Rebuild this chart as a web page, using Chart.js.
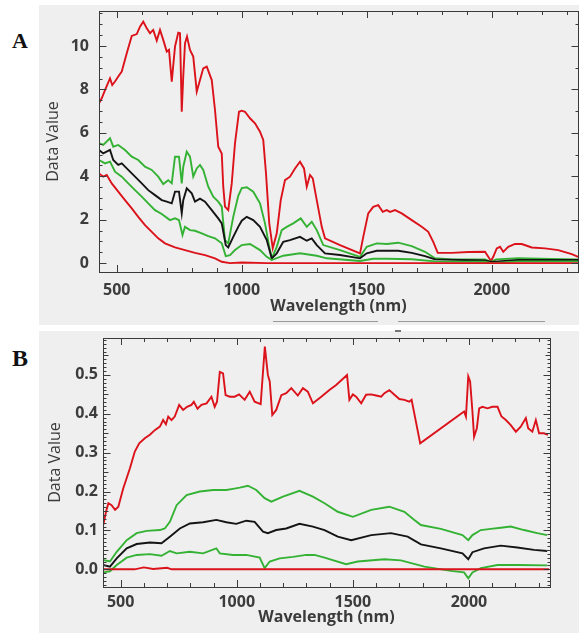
<!DOCTYPE html>
<html>
<head>
<meta charset="utf-8">
<script src="https://cdn.jsdelivr.net/npm/chart.js@4"></script>
<style>
  body { margin: 0; background: #fff; width: 579px; height: 633px; position: relative; overflow: hidden; }
  .panel { position: absolute; left: 39px; width: 540px; background: #efefef; }
  .tag { position: absolute; left: 12px; font-family: "Liberation Serif", serif; font-weight: bold; color: #111; line-height: 1; }
  .rule { position: absolute; height: 1px; background: #9a9a9a; }
</style>
</head>
<body>
<div class="tag" style="top:30px;font-size:22px">A</div>
<div class="tag" style="top:346px;font-size:24px">B</div>
<div class="panel" style="top:5px;height:320px"><canvas id="chartA" width="540" height="320"></canvas></div>
<div class="rule" style="left:273px;top:321px;width:105px"></div>
<div class="rule" style="left:398px;top:321px;width:147px"></div>
<div class="panel" style="top:331px;height:302px"><canvas id="chartB" width="540" height="302"></canvas></div>
<div class="rule" style="left:395px;top:330px;width:6px;height:2px;background:#777"></div>
<script>
// ---- panel A (wavelength nm / data value) ----
const aMaxNm = [429,440,453,473,482,493,506,520,540,560,580,593,606,620,633,646,660,673,686,700,709,720,733,746,753,760,766,773,781,793,806,820,833,846,860,880,893,906,920,926,933,946,960,973,989,1000,1013,1033,1053,1073,1086,1097,1110,1124,1140,1156,1173,1193,1213,1233,1249,1260,1273,1284,1300,1320,1333,1393,1473,1486,1506,1526,1546,1564,1580,1593,1613,1640,1680,1720,1746,1766,1784,1840,1906,1973,1986,1997,2006,2020,2033,2046,2066,2093,2120,2160,2213,2266,2320,2346];
const aMaxVal = [7.36,7.59,7.97,8.51,8.2,8.36,8.59,8.82,9.66,10.46,10.55,10.89,11.12,10.82,10.59,10.74,10.25,10.74,10.28,9.74,9.82,8.36,9.97,10.61,10.59,6.97,8.59,10.12,10.43,9.82,9.51,7.9,8.43,8.97,9.05,8.43,7.05,5.36,5.05,3.52,2.6,2.44,3.67,5.52,6.97,7.02,6.97,6.67,6.44,6.05,5.67,4.13,1.83,0.68,1.37,2.9,3.82,3.98,4.36,4.67,4.36,3.52,4.06,3.9,2.9,1.67,1.14,0.83,0.45,1.21,2.29,2.59,2.67,2.36,2.44,2.36,2.44,2.29,1.98,1.67,1.44,0.98,0.47,0.47,0.51,0.52,0.29,0.1,0.29,0.68,0.75,0.52,0.75,0.88,0.88,0.72,0.68,0.6,0.41,0.29];

const aGreenHiNm = [429,446,473,486,506,533,560,586,613,640,666,686,706,720,733,749,760,766,780,793,806,820,833,846,866,886,906,920,933,946,966,986,1000,1020,1046,1073,1093,1110,1120,1140,1160,1180,1206,1236,1260,1280,1300,1326,1393,1473,1500,1540,1580,1626,1680,1733,1773,1840,1973,1997,2017,2106,2238,2346];
const aGreenHiVal = [5.52,5.44,5.75,5.36,5.44,5.21,4.9,4.75,4.44,4.29,3.98,3.64,3.82,3.67,4.9,4.9,3.67,4.44,5.13,4.9,3.98,4.36,4.52,4.29,3.52,3.06,2.83,2.6,1.06,0.91,2.13,3.1,3.45,3.49,3.29,2.75,1.83,0.75,0.22,0.75,1.52,1.67,1.83,2.06,1.67,1.9,1.52,0.83,0.6,0.29,0.75,0.91,0.88,0.94,0.78,0.52,0.22,0.17,0.17,0.06,0.17,0.22,0.19,0.17];

const aMeanNm = [429,446,473,486,506,520,546,573,600,626,653,680,700,720,733,749,760,766,780,800,813,833,853,880,906,920,936,946,966,986,1000,1020,1046,1073,1100,1120,1140,1166,1193,1233,1260,1280,1300,1333,1393,1473,1500,1540,1580,1626,1680,1733,1773,1973,1997,2106,2346];
const aMeanVal = [5.21,5.05,5.21,4.75,4.52,4.59,4.29,3.98,3.67,3.36,3.13,2.9,2.83,2.75,3.29,3.29,2.29,2.9,3.44,3.21,2.83,2.97,2.83,2.44,2.06,1.83,0.83,0.72,1.21,1.67,1.95,2.13,1.98,1.67,1.06,0.22,0.45,0.98,1.06,1.21,1.03,1.14,0.83,0.45,0.37,0.22,0.45,0.57,0.57,0.57,0.47,0.32,0.17,0.12,0.05,0.15,0.14];

const aGreenLoNm = [429,453,473,493,520,546,573,600,626,653,680,713,733,749,763,773,793,813,840,866,893,920,936,953,973,1000,1033,1073,1100,1120,1166,1233,1300,1340,1473,1526,1580,1680,1773,1973,1997,2106,2346];
const aGreenLoVal = [4.75,4.59,4.67,4.21,3.98,3.67,3.36,3.06,2.75,2.44,2.26,1.98,2.06,1.98,1.29,1.67,1.52,1.49,1.37,1.24,1.14,0.91,0.32,0.37,0.6,0.83,0.88,0.6,0.29,0.14,0.34,0.45,0.34,0.22,0.1,0.2,0.2,0.18,0.08,0.06,0.0,0.08,0.08];

const aMinNm = [429,446,460,480,506,533,560,586,613,640,666,693,733,773,813,853,893,920,953,1000,1100,1500,2000,2346];
const aMinVal = [4.13,3.98,4.06,3.67,3.29,2.9,2.52,2.13,1.75,1.44,1.14,0.91,0.72,0.6,0.47,0.37,0.22,0.06,0.0,0.03,0.0,0.0,0.0,0.0];

// ---- panel B ----
const bMaxNm = [425,437,447,461,476,490,511,540,561,580,604,626,647,669,683,695,705,719,733,752,769,786,805,815,831,848,870,891,905,915,927,941,952,970,991,1010,1034,1056,1077,1103,1113,1121,1134,1142,1153,1170,1192,1213,1235,1263,1285,1306,1328,1364,1399,1428,1475,1485,1500,1514,1536,1557,1579,1600,1622,1636,1657,1679,1700,1722,1743,1753,1790,1979,1987,1997,2005,2015,2022,2034,2044,2058,2080,2101,2123,2140,2159,2180,2202,2223,2245,2255,2273,2288,2302,2323,2340];
const bMaxVal = [0.114,0.148,0.17,0.165,0.153,0.161,0.208,0.26,0.303,0.324,0.337,0.346,0.358,0.367,0.384,0.373,0.393,0.384,0.393,0.423,0.41,0.418,0.423,0.431,0.413,0.423,0.427,0.444,0.418,0.431,0.508,0.504,0.448,0.444,0.444,0.45,0.436,0.457,0.431,0.425,0.508,0.573,0.5,0.483,0.397,0.41,0.448,0.453,0.466,0.447,0.466,0.457,0.427,0.444,0.461,0.474,0.5,0.436,0.45,0.444,0.427,0.449,0.45,0.447,0.444,0.453,0.461,0.449,0.438,0.436,0.431,0.436,0.324,0.406,0.393,0.496,0.483,0.406,0.341,0.363,0.414,0.418,0.414,0.418,0.418,0.393,0.384,0.371,0.354,0.367,0.389,0.363,0.354,0.384,0.35,0.35,0.346];

const bGreenHiNm = [425,454,483,526,569,612,669,690,712,741,784,841,898,955,984,1013,1048,1084,1120,1149,1199,1270,1328,1378,1435,1500,1579,1657,1722,1765,1793,1879,1972,1997,2015,2051,2094,2137,2180,2237,2294,2337];
const bGreenHiVal = [0.024,0.02,0.045,0.075,0.093,0.099,0.101,0.105,0.122,0.165,0.191,0.2,0.204,0.204,0.207,0.21,0.215,0.204,0.183,0.174,0.187,0.202,0.187,0.17,0.148,0.135,0.153,0.161,0.148,0.127,0.114,0.104,0.088,0.075,0.088,0.101,0.104,0.107,0.11,0.101,0.093,0.088];

const bMeanNm = [425,454,483,526,569,626,676,712,755,798,855,912,955,998,1041,1077,1113,1134,1170,1213,1270,1328,1378,1435,1493,1579,1664,1736,1793,1879,1972,1997,2015,2065,2137,2208,2280,2337];
const bMeanVal = [0.011,0.007,0.028,0.054,0.065,0.069,0.067,0.084,0.105,0.118,0.121,0.127,0.121,0.117,0.125,0.122,0.097,0.093,0.101,0.105,0.117,0.11,0.101,0.084,0.075,0.088,0.093,0.084,0.064,0.054,0.041,0.026,0.044,0.054,0.061,0.056,0.05,0.047];

const bGreenLoNm = [425,454,483,526,569,626,676,712,741,798,855,912,927,984,1041,1099,1120,1142,1185,1242,1299,1335,1378,1471,1521,1636,1707,1808,1922,1979,1997,2015,2051,2123,2208,2337];
const bGreenLoVal = [-0.008,-0.005,0.011,0.03,0.037,0.039,0.035,0.047,0.041,0.045,0.041,0.054,0.041,0.037,0.037,0.03,0.003,0.02,0.028,0.032,0.037,0.037,0.03,0.013,0.02,0.026,0.023,0.007,-0.004,-0.008,-0.023,-0.008,0.003,0.011,0.011,0.01];

const bMinNm = [425,560,600,640,700,720,2345];
const bMinVal = [0,0,0.005,0.001,0.004,0,0];

// tick labels
const xTicks = [500, 1000, 1500, 2000];
const aYTicks = [0, 2, 4, 6, 8, 10];
const bYTicks = [0.0, 0.1, 0.2, 0.3, 0.4, 0.5];

const RED = '#dc121b';
const GREEN = '#34b234';
const BLACK = '#141414';

Chart.defaults.font.family = "'Open Sans', sans-serif";

function pts(xs, ys) {
  return xs.map((x, i) => ({x: x, y: ys[i]}));
}

function line(xs, ys, color) {
  return { data: pts(xs, ys), borderColor: color, borderWidth: 1.9, pointRadius: 0, tension: 0, fill: false };
}

function near(v, step) {
  const r = v / step;
  return Math.abs(r - Math.round(r)) < 1e-6;
}

// inward tick marks on one vertical side
function sideTicks(ctx, yScale, edge, dir, step, major, mid) {
  const j0 = Math.ceil(yScale.min / step - 1e-6);
  const j1 = Math.floor(yScale.max / step + 1e-6);
  for (let j = j0; j <= j1; j++) {
    const v = j * step;
    const py = Math.round(yScale.getPixelForValue(v)) + 0.5;
    let len = 3;
    if (near(v, major)) len = 7;
    else if (mid && near(v, mid)) len = 5;
    ctx.moveTo(edge, py);
    ctx.lineTo(edge + dir * len, py);
  }
}

// frame round the plot with inward ticks on all four sides
function makeFrame(o) {
  return {
    id: 'frame_' + o.name,
    afterDraw(chart) {
      const {ctx, chartArea: a} = chart;
      const x = chart.scales.x, y = chart.scales.y;
      ctx.save();
      ctx.strokeStyle = '#3a3a3a';
      ctx.lineWidth = 1;
      ctx.strokeRect(Math.round(a.left) + 0.5, Math.round(a.top) + 0.5, Math.round(a.right - a.left), Math.round(a.bottom - a.top));
      ctx.beginPath();
      const i0 = Math.ceil(x.min / o.xStep), i1 = Math.floor(x.max / o.xStep);
      for (let i = i0; i <= i1; i++) {
        const v = i * o.xStep;
        const px = Math.round(x.getPixelForValue(v)) + 0.5;
        const len = near(v, o.xMajor) ? 7 : 4;
        ctx.moveTo(px, a.bottom); ctx.lineTo(px, a.bottom - len);
        ctx.moveTo(px, a.top); ctx.lineTo(px, a.top + len);
      }
      sideTicks(ctx, y, Math.round(a.left) + 0.5, 1, o.yLeftStep, o.yMajor, o.yMid);
      sideTicks(ctx, y, Math.round(a.right) + 0.5, -1, o.yRightStep, o.yMajor, o.yMid);
      ctx.stroke();
      ctx.restore();
    }
  };
}

function makeChart(id, sets, cfg) {
  return new Chart(document.getElementById(id), {
    type: 'line',
    data: { datasets: sets },
    plugins: [makeFrame(cfg.frame)],
    options: {
      responsive: false,
      animation: false,
      devicePixelRatio: 1,
      layout: { padding: cfg.pad },
      plugins: {
        legend: { display: false },
        tooltip: { enabled: false }
      },
      scales: {
        x: {
          type: 'linear',
          min: cfg.xMin,
          max: cfg.xMax,
          grid: { display: false, drawTicks: false },
          border: { display: false },
          afterBuildTicks: s => { s.ticks = xTicks.map(v => ({value: v})); },
          afterFit: s => { s.height = cfg.xHeight; s.paddingLeft = 0; s.paddingRight = 0; },
          ticks: { padding: cfg.xPad, color: '#3c3c3c', font: { size: 16, weight: 'bold' }, maxRotation: 0, callback: v => String(v) },
          title: { display: true, text: 'Wavelength (nm)', color: '#3a3a3a', font: { size: 16, weight: 'bold' }, padding: { top: 0, bottom: cfg.xTitlePad } }
        },
        y: {
          type: 'linear',
          min: cfg.yMin,
          max: cfg.yMax,
          grid: { display: false, drawTicks: false },
          border: { display: false },
          afterBuildTicks: s => { s.ticks = cfg.yTicks.map(v => ({value: v})); },
          afterFit: s => { s.width = cfg.yWidth; s.paddingTop = 0; s.paddingBottom = 0; },
          ticks: { padding: cfg.yPad, color: '#3c3c3c', font: { size: 16, weight: 'bold' }, callback: cfg.yFmt },
          title: { display: true, text: 'Data Value', color: '#3a3a3a', font: { size: 16 }, padding: { top: cfg.yTitlePad, bottom: 0 } }
        }
      }
    }
  });
}

makeChart('chartA', [
  line(aMinNm, aMinVal, RED),
  line(aGreenLoNm, aGreenLoVal, GREEN),
  line(aMeanNm, aMeanVal, BLACK),
  line(aGreenHiNm, aGreenHiVal, GREEN),
  line(aMaxNm, aMaxVal, RED)
], {
  pad: { top: 6, right: 1, left: 0, bottom: 0 },
  xMin: 429, xMax: 2345, yMin: -0.41, yMax: 11.61,
  xHeight: 53, yWidth: 60, xPad: 9, yPad: 10, xTitlePad: 9, yTitlePad: 5,
  yTicks: aYTicks, yFmt: v => String(v),
  frame: { name: 'A', xStep: 100, xMajor: 500, yLeftStep: 0.5, yRightStep: 1, yMajor: 2 }
});

makeChart('chartB', [
  line(bMinNm, bMinVal, RED),
  line(bGreenLoNm, bGreenLoVal, GREEN),
  line(bMeanNm, bMeanVal, BLACK),
  line(bGreenHiNm, bGreenHiVal, GREEN),
  line(bMaxNm, bMaxVal, RED)
], {
  pad: { top: 7, right: 29, left: 0, bottom: 0 },
  xMin: 424, xMax: 2349, yMin: -0.0455, yMax: 0.595,
  xHeight: 46, yWidth: 64, xPad: 6, yPad: 5, xTitlePad: 6, yTitlePad: 7,
  yTicks: bYTicks, yFmt: v => v.toFixed(1),
  frame: { name: 'B', xStep: 100, xMajor: 500, yLeftStep: 0.01, yRightStep: 0.01, yMajor: 0.1, yMid: 0.05 }
});
</script>
</body>
</html>
